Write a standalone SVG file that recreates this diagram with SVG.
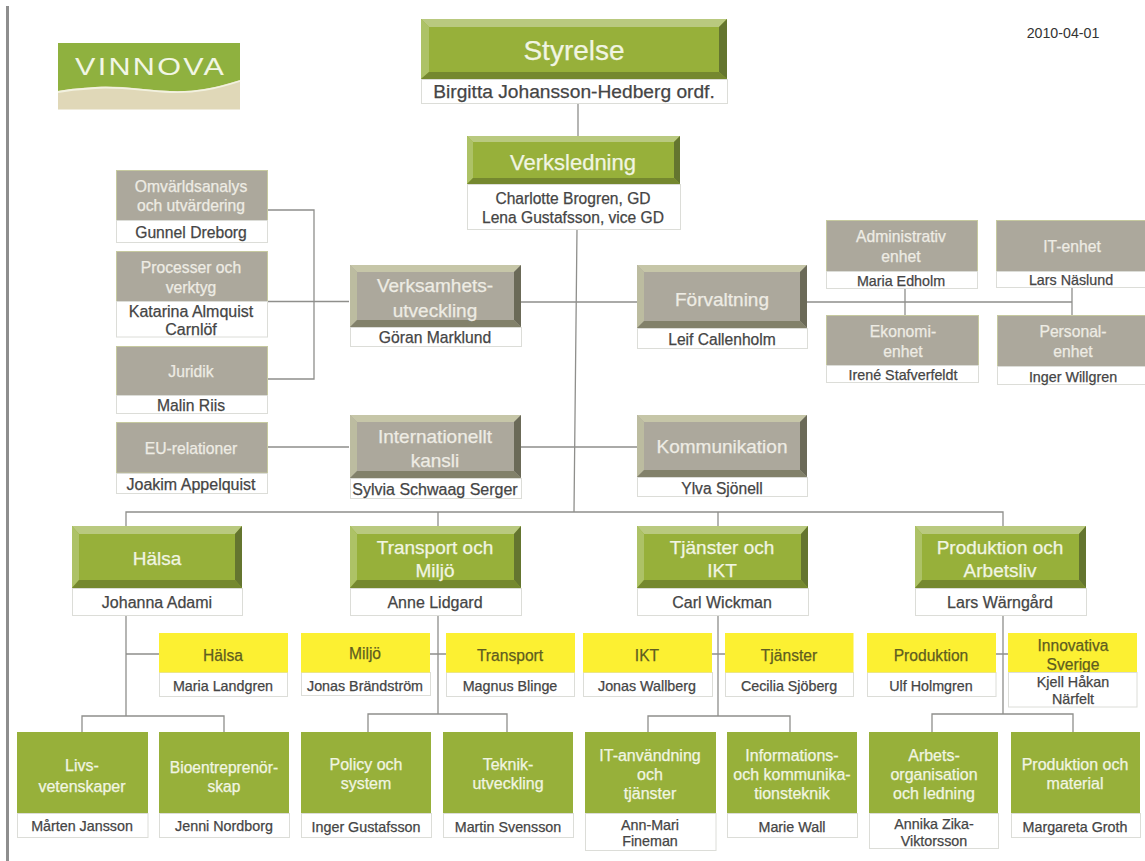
<svg xmlns="http://www.w3.org/2000/svg" width="1145" height="861" viewBox="0 0 1145 861">
<style>
text{font-family:"Liberation Sans",Arial,sans-serif;text-anchor:middle;stroke-width:.25px}
.w{fill:#f1f5e2;stroke:#f1f5e2}.wg{fill:#eeece4;stroke:#eeece4}.d{fill:#454545;stroke:#454545}.y{fill:#5f5d20;stroke:#5f5d20}
.lab{fill:#fff;stroke:#dcddd8;stroke-width:1}
.g{fill:#97b03a}.gl{fill:#b9c97f}.gm{fill:#adc266}.gd{fill:#64752f}.gb{fill:#75882f}
.t{fill:#aca89c}.te{stroke:#c6c99f;stroke-width:1}.tl{fill:#c6c6a8}.tm{fill:#bcbca0}.td{fill:#6b6a58}.tb{fill:#82816a}
.ye{fill:#fcf032}
.c{fill:none;stroke:#8f8f8c;stroke-width:1.3}
.a{font-size:19px}.b{font-size:16px}.e{font-size:15.700px}.f{font-size:14.300px}.h{font-size:15.600px}
</style>
<rect x="0" y="0" width="1145" height="861" fill="#fff"/>
<rect x="6" y="6" width="3" height="855" fill="#8e8e8e"/>
<g id="logo">
<rect x="58" y="43" width="182" height="66.500" fill="#e0d8b8"/>
<path d="M58 43H240V80C215 88 195 92 170 91C145 90 120 85 95 87C80 88 68 89 58 91Z" fill="#8fb13f"/>
<path d="M58 92C68 90 80 89 95 88C120 86 145 91 170 92C195 93 215 89 240 81" fill="none" stroke="#f2f1df" stroke-width="1.800"/>
<text transform="translate(149.500 75) scale(1.300 1)" x="0" y="0" textLength="114.600" lengthAdjust="spacing" style="font-size:23.500px" fill="#f2f6e4">VINNOVA</text>
</g>
<text id="date" x="1063" y="38" style="font-size:14.200px" fill="#333">2010-04-01</text>
<g id="connectors">
<path class="c" d="M578 103V136M577 229L574 512M126 526V512H1003V526M438 512V526M718 512V526"/>
<path class="c" d="M268 210H314V379H268M268 301.500H349M521 302H637M807 302H1072M905 288V315M1072 287V315M268 447H349M521 447H637"/>
<path class="c" d="M126 615V716M126 654H159M82 732V716H224V732"/>
<path class="c" d="M438 615V714M430 654H446M368 732V714H507V732"/>
<path class="c" d="M718 615V716M712 654H725M648 732V716H790V732"/>
<path class="c" d="M1003 615V714M996 654H1008M932 732V714H1073V732"/>
</g>
<g id="styrelse">
<rect class="g" x="421" y="19" width="306" height="60"/><path class="gl" d="M421 19H727L719 27H429Z"/><path class="gm" d="M421 19L429 27V72L421 79Z"/><path class="gd" d="M727 19L719 27V72L727 79Z"/><path class="gb" d="M421 79L429 72H719L727 79Z"/>
<text class="w" x="574" y="60" style="font-size:28px">Styrelse</text>
<rect class="lab" x="421.500" y="79.500" width="306" height="24"/><text class="d" x="574" y="98" style="font-size:19.200px">Birgitta Johansson-Hedberg ordf.</text>
</g>
<g id="verksledning">
<rect class="g" x="467" y="136" width="213" height="48"/><path class="gl" d="M467 136H680L674 142H473Z"/><path class="gm" d="M467 136L473 142V178L467 184Z"/><path class="gd" d="M680 136L674 142V178L680 184Z"/><path class="gb" d="M467 184L473 178H674L680 184Z"/>
<text class="w" x="573" y="170" style="font-size:22px">Verksledning</text>
<rect class="lab" x="467.500" y="184.500" width="213" height="45"/><text class="d" x="573" y="204" style="font-size:15.600px">Charlotte Brogren, GD</text><text class="d" x="573" y="223" style="font-size:15.600px">Lena Gustafsson, vice GD</text>
</g>
<g id="verksamhet">
<rect class="t" x="350" y="265" width="171" height="62"/><path class="tl" d="M350 265H521L514 272H357Z"/><path class="tm" d="M350 265L357 272V320L350 327Z"/><path class="td" d="M521 265L514 272V320L521 327Z"/><path class="tb" d="M350 327L357 320H514L521 327Z"/>
<text class="wg a" x="435" y="292">Verksamhets-</text><text class="wg a" x="435" y="317">utveckling</text>
<rect class="lab" x="350.500" y="327.500" width="171" height="19"/><text class="d e" x="435" y="343">Göran Marklund</text>
</g>
<g id="forvaltning">
<rect class="t" x="637" y="265" width="170" height="63"/><path class="tl" d="M637 265H807L800 272H644Z"/><path class="tm" d="M637 265L644 272V321L637 328Z"/><path class="td" d="M807 265L800 272V321L807 328Z"/><path class="tb" d="M637 328L644 321H800L807 328Z"/>
<text class="wg a" x="722" y="306">Förvaltning</text>
<rect class="lab" x="637.500" y="328.500" width="170" height="20"/><text class="d h" x="722" y="345">Leif Callenholm</text>
</g>
<g id="internationellt">
<rect class="t" x="350" y="415" width="171" height="63"/><path class="tl" d="M350 415H521L514 422H357Z"/><path class="tm" d="M350 415L357 422V471L350 478Z"/><path class="td" d="M521 415L514 422V471L521 478Z"/><path class="tb" d="M350 478L357 471H514L521 478Z"/>
<text class="wg a" x="435" y="443">Internationellt</text><text class="wg a" x="435" y="467">kansli</text>
<rect class="lab" x="350.500" y="478.500" width="171" height="20"/><text class="d b" x="435" y="495">Sylvia Schwaag Serger</text>
</g>
<g id="kommunikation">
<rect class="t" x="637" y="415" width="170" height="62"/><path class="tl" d="M637 415H807L800 422H644Z"/><path class="tm" d="M637 415L644 422V470L637 477Z"/><path class="td" d="M807 415L800 422V470L807 477Z"/><path class="tb" d="M637 477L644 470H800L807 477Z"/>
<text class="wg a" x="722" y="453">Kommunikation</text>
<rect class="lab" x="637.500" y="477.500" width="170" height="19"/><text class="d h" x="722" y="494">Ylva Sjönell</text>
</g>
<g id="omvarld"><rect class="t te" x="116.500" y="170.500" width="151" height="50"/><text class="wg e" x="191" y="192">Omvärldsanalys</text><text class="wg e" x="191" y="211">och utvärdering</text><rect class="lab" x="116.500" y="220.500" width="151" height="22"/><text class="d e" x="191" y="238">Gunnel Dreborg</text></g>
<g id="processer"><rect class="t te" x="116.500" y="251.500" width="151" height="50"/><text class="wg e" x="191" y="273">Processer och</text><text class="wg e" x="191" y="293">verktyg</text><rect class="lab" x="116.500" y="301.500" width="151" height="35.500"/><text class="d b" x="191" y="317">Katarina Almquist</text><text class="d b" x="191" y="335">Carnlöf</text></g>
<g id="juridik"><rect class="t te" x="116.500" y="346.500" width="151" height="49"/><text class="wg e" x="191" y="377">Juridik</text><rect class="lab" x="116.500" y="395.500" width="151" height="18"/><text class="d e" x="191" y="411">Malin Riis</text></g>
<g id="eu"><rect class="t te" x="116.500" y="422.500" width="151" height="50.500"/><text class="wg e" x="191" y="454">EU-relationer</text><rect class="lab" x="116.500" y="473.500" width="151" height="20"/><text class="d b" x="191" y="490">Joakim Appelquist</text></g>
<g id="admin"><rect class="t te" x="826.500" y="220.500" width="151" height="51"/><text class="wg e" x="901" y="242">Administrativ</text><text class="wg e" x="901" y="262">enhet</text><rect class="lab" x="826.500" y="271.500" width="151" height="17"/><text class="d f" x="901" y="286">Maria Edholm</text></g>
<g id="it"><rect class="t te" x="996.500" y="220.500" width="149" height="51"/><text class="wg e" x="1072" y="252">IT-enhet</text><rect class="lab" x="996.500" y="271.500" width="149" height="16"/><text class="d f" x="1071" y="285">Lars Näslund</text></g>
<g id="ekonomi"><rect class="t te" x="826.500" y="315.500" width="152" height="50"/><text class="wg e" x="903" y="337">Ekonomi-</text><text class="wg e" x="903" y="357">enhet</text><rect class="lab" x="826.500" y="365.500" width="152" height="17"/><text class="d f" x="903" y="380">Irené Stafverfeldt</text></g>
<g id="personal"><rect class="t te" x="997.500" y="315.500" width="148" height="51"/><text class="wg e" x="1073" y="337">Personal-</text><text class="wg e" x="1073" y="357">enhet</text><rect class="lab" x="997.500" y="366.500" width="148" height="18"/><text class="d f" x="1073" y="382">Inger Willgren</text></g>
<g id="halsa">
<rect class="g" x="72" y="526" width="170" height="62"/><path class="gl" d="M72 526H242L235 534H79Z"/><path class="gm" d="M72 526L79 534V580L72 588Z"/><path class="gd" d="M242 526L235 534V580L242 588Z"/><path class="gb" d="M72 588L79 580H235L242 588Z"/>
<text class="w a" x="157" y="565">Hälsa</text>
<rect class="lab" x="72.500" y="588.500" width="170" height="27"/><text class="d b" x="157" y="608">Johanna Adami</text>
</g>
<g id="transportmiljo">
<rect class="g" x="350" y="526" width="171" height="62"/><path class="gl" d="M350 526H521L514 534H357Z"/><path class="gm" d="M350 526L357 534V580L350 588Z"/><path class="gd" d="M521 526L514 534V580L521 588Z"/><path class="gb" d="M350 588L357 580H514L521 588Z"/>
<text class="w a" x="435" y="554">Transport och</text><text class="w a" x="435" y="577">Miljö</text>
<rect class="lab" x="350.500" y="588.500" width="171" height="27"/><text class="d b" x="435" y="608">Anne Lidgard</text>
</g>
<g id="tjansterikt">
<rect class="g" x="637" y="526" width="171" height="62"/><path class="gl" d="M637 526H808L801 534H644Z"/><path class="gm" d="M637 526L644 534V580L637 588Z"/><path class="gd" d="M808 526L801 534V580L808 588Z"/><path class="gb" d="M637 588L644 580H801L808 588Z"/>
<text class="w a" x="722" y="554">Tjänster och</text><text class="w a" x="722" y="577">IKT</text>
<rect class="lab" x="637.500" y="588.500" width="171" height="27"/><text class="d b" x="722" y="608">Carl Wickman</text>
</g>
<g id="produktionarbetsliv">
<rect class="g" x="915" y="526" width="171" height="62"/><path class="gl" d="M915 526H1086L1079 534H922Z"/><path class="gm" d="M915 526L922 534V580L915 588Z"/><path class="gd" d="M1086 526L1079 534V580L1086 588Z"/><path class="gb" d="M915 588L922 580H1079L1086 588Z"/>
<text class="w a" x="1000" y="554">Produktion och</text><text class="w a" x="1000" y="577">Arbetsliv</text>
<rect class="lab" x="915.500" y="588.500" width="171" height="27"/><text class="d b" x="1000" y="608">Lars Wärngård</text>
</g>
<g id="y-halsa"><rect class="lab" x="159.500" y="672.500" width="128" height="24"/><rect class="ye" x="159" y="633" width="129" height="39.500"/><text class="y h" x="223" y="661">Hälsa</text><text class="d f" x="223" y="691">Maria Landgren</text></g>
<g id="y-miljo"><rect class="lab" x="301.500" y="672.500" width="129" height="23"/><rect class="ye" x="301" y="633" width="129" height="39.500"/><text class="y h" x="365" y="659">Miljö</text><text class="d f" x="365" y="691">Jonas Brändström</text></g>
<g id="y-transport"><rect class="lab" x="446.500" y="672.500" width="128" height="24"/><rect class="ye" x="446" y="633" width="129" height="39.500"/><text class="y h" x="510" y="661">Transport</text><text class="d f" x="510" y="691">Magnus Blinge</text></g>
<g id="y-ikt"><rect class="lab" x="583.500" y="672.500" width="129" height="24"/><rect class="ye" x="583" y="633" width="129" height="39.500"/><text class="y h" x="647" y="661">IKT</text><text class="d f" x="647" y="691">Jonas Wallberg</text></g>
<g id="y-tjanster"><rect class="lab" x="725.500" y="672.500" width="128" height="24"/><rect class="ye" x="725" y="633" width="128.500" height="39.500"/><text class="y h" x="789" y="661">Tjänster</text><text class="d f" x="789" y="691">Cecilia Sjöberg</text></g>
<g id="y-produktion"><rect class="lab" x="867.500" y="672.500" width="128.500" height="24"/><rect class="ye" x="867" y="633" width="129" height="39.500"/><text class="y h" x="931" y="661">Produktion</text><text class="d f" x="931" y="691">Ulf Holmgren</text></g>
<g id="y-innovativa"><rect class="ye" x="1008" y="633" width="129" height="39"/><text class="y h" x="1073" y="651">Innovativa</text><text class="y h" x="1073" y="670">Sverige</text><rect class="lab" x="1008.500" y="672.500" width="128.500" height="34.500"/><text class="d f" x="1073" y="687">Kjell Håkan</text><text class="d f" x="1073" y="704">Närfelt</text></g>
<g id="b-livs"><rect class="g" x="17" y="732" width="131" height="81"/><text class="w b" x="82" y="771">Livs-</text><text class="w b" x="82" y="792">vetenskaper</text><rect class="lab" x="17.500" y="813.500" width="130.500" height="24"/><text class="d f" x="82" y="831">Mårten Jansson</text></g>
<g id="b-bio"><rect class="g" x="159" y="732" width="130" height="81"/><text class="w h" x="224" y="773">Bioentreprenör-</text><text class="w h" x="224" y="792">skap</text><rect class="lab" x="159.500" y="813.500" width="130" height="24"/><text class="d f" x="224" y="831">Jenni Nordborg</text></g>
<g id="b-policy"><rect class="g" x="301" y="732" width="130" height="81"/><text class="w b" x="366" y="770">Policy och</text><text class="w b" x="366" y="789">system</text><rect class="lab" x="301.500" y="813.500" width="130" height="24"/><text class="d f" x="366" y="832">Inger Gustafsson</text></g>
<g id="b-teknik"><rect class="g" x="443" y="732" width="130" height="81"/><text class="w b" x="508" y="770">Teknik-</text><text class="w b" x="508" y="789">utveckling</text><rect class="lab" x="443.500" y="813.500" width="130" height="24"/><text class="d f" x="508" y="832">Martin Svensson</text></g>
<g id="b-itanv"><rect class="g" x="585" y="732" width="131" height="81"/><text class="w b" x="650" y="761">IT-användning</text><text class="w b" x="650" y="780">och</text><text class="w b" x="650" y="799">tjänster</text><rect class="lab" x="585.500" y="813.500" width="130.500" height="37"/><text class="d f" x="650" y="830">Ann-Mari</text><text class="d f" x="650" y="846">Fineman</text></g>
<g id="b-info"><rect class="g" x="727" y="732" width="130" height="81"/><text class="w b" x="792" y="761">Informations-</text><text class="w b" x="792" y="780">och kommunika-</text><text class="w b" x="792" y="799">tionsteknik</text><rect class="lab" x="727.500" y="813.500" width="130" height="24"/><text class="d f" x="792" y="832">Marie Wall</text></g>
<g id="b-arbets"><rect class="g" x="869" y="732" width="129" height="81"/><text class="w b" x="934" y="761">Arbets-</text><text class="w b" x="934" y="780">organisation</text><text class="w b" x="934" y="799">och ledning</text><rect class="lab" x="869.500" y="813.500" width="129" height="35"/><text class="d f" x="934" y="829">Annika Zika-</text><text class="d f" x="934" y="846">Viktorsson</text></g>
<g id="b-prod"><rect class="g" x="1011" y="732" width="129" height="81"/><text class="w b" x="1075" y="770">Produktion och</text><text class="w b" x="1075" y="789">material</text><rect class="lab" x="1011.500" y="813.500" width="129" height="24"/><text class="d f" x="1075" y="832">Margareta Groth</text></g>
</svg>
